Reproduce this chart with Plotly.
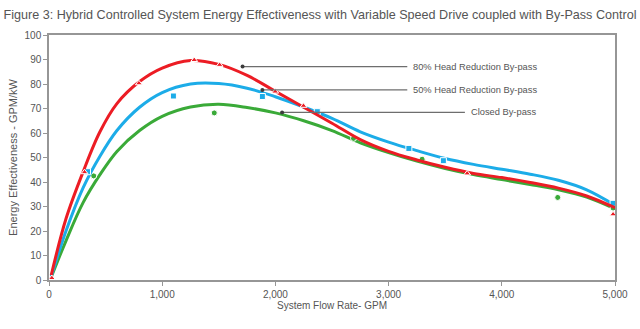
import plotly.graph_objects as go

# ---- data -------------------------------------------------------------
# smoothed trend curves (GPM, GPM/kW)
curve_x = [20, 150, 300, 450, 600, 800, 1000, 1250, 1500, 1750, 2000, 2250, 2500,
           2750, 3000, 3250, 3500, 3750, 4000, 4250, 4500, 4750, 5000]
red_curve_y = [2, 25, 44, 60.5, 72, 81, 86.5, 89.6, 88, 83.5, 77, 70.5, 64,
               57.3, 52.5, 49, 46, 43.5, 41.8, 39.8, 37.5, 34.3, 29.5]
blue_curve_y = [1.5, 20, 37.5, 50.5, 61, 70.5, 76.5, 80, 80.2, 78.3, 74.8, 70.6, 66,
                60.5, 56.3, 52.8, 49.6, 47.2, 45.2, 43.2, 40.7, 36.8, 30.5]
green_curve_y = [1.2, 16, 31.5, 43, 52.5, 61, 66.8, 70.6, 71.7, 70.4, 68.2, 65, 61,
                 56, 52, 48.5, 45.5, 43, 41, 39, 36.8, 33.8, 29]

# measured points
red_pts_x = [25, 314, 794, 1283, 1507, 1998, 2248, 3694, 4983]
red_pts_y = [0.8, 44, 80.3, 89.8, 87.8, 76.9, 71.1, 43.5, 26.8]

blue_pts_x = [340, 1099, 1885, 2370, 3179, 3484, 4983]
blue_pts_y = [44.2, 75.1, 74.9, 68.7, 53.7, 48.7, 31.3]

green_pts_x = [395, 1460, 2690, 3296, 4494, 4983]
green_pts_y = [42.5, 68.2, 57.8, 49.3, 33.7, 29.4]

# callout labels: name, anchor point and where the leader line ends
label_names = ["80% Head Reduction By-pass", "50% Head Reduction By-pass", "Closed By-pass"]
label_anchor_x = [1710, 1885, 2059]
label_anchor_y = [87.1, 77.6, 68.4]
label_end_x = [3165, 3165, 3674]

x_ticks = [0, 1000, 2000, 3000, 4000, 5000]
y_ticks = list(range(0, 101, 10))

RED = "rgb(236,28,36)"
BLUE = "rgb(28,172,232)"
GREEN = "rgb(58,170,56)"
GREY = "rgb(85,85,85)"
FONT = "Liberation Sans Narrow, Liberation Sans, Arial, sans-serif"

fig = go.Figure()

for cy, px, py, col, sym in [
    (green_curve_y, green_pts_x, green_pts_y, GREEN, "circle"),
    (blue_curve_y, blue_pts_x, blue_pts_y, BLUE, "square"),
    (red_curve_y, red_pts_x, red_pts_y, RED, "triangle-up"),
]:
    fig.add_trace(go.Scatter(x=curve_x, y=cy, mode="lines",
                             line=dict(color=col, width=3, shape="spline", smoothing=1.0),
                             hoverinfo="skip", showlegend=False, cliponaxis=False))
    fig.add_trace(go.Scatter(x=px, y=py, mode="markers",
                             marker=dict(symbol=sym, size=6, color=col,
                                         line=dict(color="white", width=1)),
                             showlegend=False, cliponaxis=False))

# leader lines with a dot at the curve end and the series label
for name, ax, ay, ex in zip(label_names, label_anchor_x, label_anchor_y, label_end_x):
    fig.add_trace(go.Scatter(x=[ax, ex], y=[ay, ay], mode="lines",
                             line=dict(color="rgb(110,110,110)", width=1.2),
                             showlegend=False, hoverinfo="skip"))
    fig.add_trace(go.Scatter(x=[ax], y=[ay], mode="markers",
                             marker=dict(size=4, color="rgb(60,60,60)"),
                             showlegend=False, hoverinfo="skip"))
    fig.add_annotation(x=ex, y=ay, text=name, showarrow=False, xanchor="left",
                       xshift=4, yanchor="middle",
                       font=dict(family=FONT, size=9.3, color=GREY))

fig.update_layout(
    width=640, height=329,
    margin=dict(l=44, r=23, t=35, b=49),
    paper_bgcolor="white", plot_bgcolor="white",
    title=dict(text="Figure 3: Hybrid Controlled System Energy Effectiveness with Variable Speed Drive coupled with By-Pass Control",
               x=0.5, xanchor="center", y=0.955, yanchor="middle",
               font=dict(family=FONT, size=12.6, color=GREY)),
    font=dict(family=FONT, color=GREY),
)

fig.update_xaxes(range=[0, 5000], tickvals=x_ticks, tickformat=",",
                 showgrid=False, zeroline=False,
                 showline=True, linecolor="rgb(150,150,150)", linewidth=1.5, mirror=True,
                 ticks="outside", ticklen=4, tickcolor="rgb(150,150,150)",
                 tickfont=dict(family=FONT, size=10, color=GREY),
                 title=dict(text="System Flow Rate- GPM", standoff=2,
                            font=dict(family=FONT, size=10, color=GREY)))
fig.update_yaxes(range=[0, 100], tickvals=y_ticks,
                 showgrid=False, zeroline=False,
                 showline=True, linecolor="rgb(150,150,150)", linewidth=1.5, mirror=True,
                 ticks="outside", ticklen=4, tickcolor="rgb(150,150,150)",
                 tickfont=dict(family=FONT, size=10, color=GREY),
                 title=dict(text="Energy Effectiveness - GPM/kW", standoff=5,
                            font=dict(family=FONT, size=11, color=GREY)))

fig.write_html("out.html")
